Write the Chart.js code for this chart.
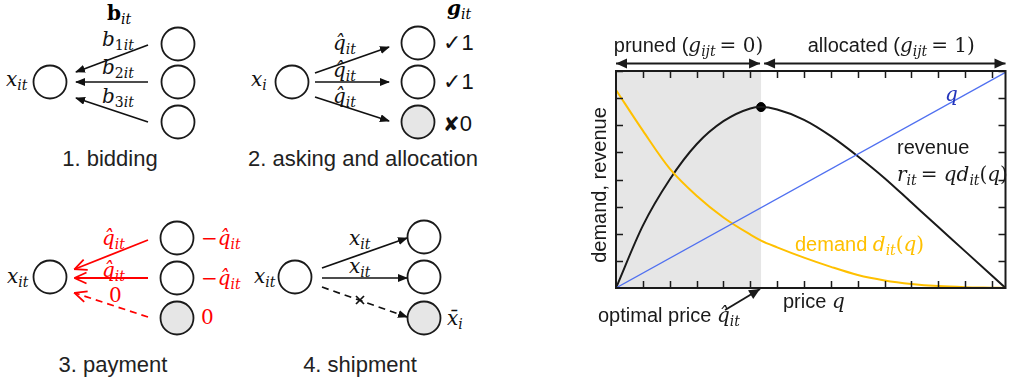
<!DOCTYPE html>
<html>
<head>
<meta charset="utf-8">
<script src="https://cdn.jsdelivr.net/npm/chart.js@4.4.0/dist/chart.umd.min.js"></script>
<style>
  html, body { margin: 0; padding: 0; background: #fff; width: 1011px; height: 385px; overflow: hidden; }
  #diag { position: absolute; left: 0; top: 0; }
  #chartWrap { position: absolute; left: 560px; top: 0; width: 451px; height: 385px; }
  .m { font: italic 20px "DejaVu Serif", serif; fill: #111; }
  .s { font: italic 14px "DejaVu Serif", serif; }
  .u { font-style: normal; }
  .cap { font: 22px "Liberation Sans", Arial, sans-serif; fill: #222; }
  .red { fill: #f00; }
</style>
</head>
<body>

<!-- steps 1-4 of the auction, plain svg -->
<svg id="diag" width="560" height="385" xmlns="http://www.w3.org/2000/svg">
  <defs>
    <marker id="tri" viewBox="0 0 10 8" refX="9" refY="4" markerWidth="10" markerHeight="8" markerUnits="userSpaceOnUse" orient="auto">
      <path d="M0,0 L10,4 L0,8 z" fill="#111"/>
    </marker>
    <marker id="vee" viewBox="0 0 14 14" refX="12.5" refY="7" markerWidth="14" markerHeight="14" markerUnits="userSpaceOnUse" orient="auto">
      <path d="M1,1.5 L13,7 L1,12.5" fill="none" stroke="#f00" stroke-width="1.8"/>
    </marker>
  </defs>

  <!-- 1. bidding -->
  <g stroke="#1a1a1a" stroke-width="1.8" fill="#fff">
    <circle cx="50" cy="82" r="16.5"/>
    <circle cx="178" cy="44" r="16.5"/>
    <circle cx="178" cy="82" r="16.5"/>
    <circle cx="178" cy="122" r="16.5"/>
  </g>
  <g stroke="#111" stroke-width="1.7">
    <line x1="148" y1="45" x2="76" y2="72" marker-end="url(#tri)"/>
    <line x1="148" y1="82" x2="76" y2="82" marker-end="url(#tri)"/>
    <line x1="148" y1="122" x2="76" y2="98" marker-end="url(#tri)"/>
  </g>
  <text x="107" y="20"><tspan font-family="DejaVu Serif" font-weight="bold" font-size="20">b</tspan><tspan class="s" dy="4">it</tspan></text>
  <text class="m" x="102" y="46">b<tspan class="s u" dy="4">1</tspan><tspan class="s">it</tspan></text>
  <text class="m" x="102" y="74">b<tspan class="s u" dy="4">2</tspan><tspan class="s">it</tspan></text>
  <text class="m" x="102" y="103">b<tspan class="s u" dy="4">3</tspan><tspan class="s">it</tspan></text>
  <text class="m" x="6" y="86">x<tspan class="s" dy="4">it</tspan></text>
  <text class="cap" x="110" y="166" text-anchor="middle">1. bidding</text>

  <!-- 2. asking and allocation -->
  <g stroke="#1a1a1a" stroke-width="1.8" fill="#fff">
    <circle cx="292" cy="82" r="16.5"/>
    <circle cx="418" cy="43" r="16.5"/>
    <circle cx="418" cy="82" r="16.5"/>
    <circle cx="418" cy="122" r="16.5" fill="#e6e6e6"/>
  </g>
  <g stroke="#111" stroke-width="1.7">
    <line x1="315" y1="73" x2="389" y2="47" marker-end="url(#tri)"/>
    <line x1="315" y1="82" x2="389" y2="82" marker-end="url(#tri)"/>
    <line x1="315" y1="97" x2="389" y2="121" marker-end="url(#tri)"/>
  </g>
  <text x="447" y="15"><tspan font-family="DejaVu Serif" font-weight="bold" font-style="italic" font-size="20">g</tspan><tspan class="s" dy="4">it</tspan></text>
  <text class="m" x="251" y="86">x<tspan class="s" dy="4">i</tspan></text>
  <text class="m" x="333" y="50">q&#x302;<tspan class="s" dy="4">it</tspan></text>
  <text class="m" x="333" y="77">q&#x302;<tspan class="s" dy="4">it</tspan></text>
  <text class="m" x="333" y="103">q&#x302;<tspan class="s" dy="4">it</tspan></text>
  <text x="443" y="50" font-family="DejaVu Sans" font-size="22" fill="#111">✓<tspan font-family="Liberation Sans" font-size="22">1</tspan></text>
  <text x="443" y="89" font-family="DejaVu Sans" font-size="22" fill="#111">✓<tspan font-family="Liberation Sans" font-size="22">1</tspan></text>
  <text x="443" y="131" font-family="DejaVu Sans" font-size="20" fill="#111">✘<tspan font-family="Liberation Sans" font-size="22">0</tspan></text>
  <text class="cap" x="363" y="166" text-anchor="middle">2. asking and allocation</text>

  <!-- 3. payment -->
  <g stroke="#1a1a1a" stroke-width="1.8" fill="#fff">
    <circle cx="50" cy="277" r="16.5"/>
    <circle cx="177" cy="238" r="16.5"/>
    <circle cx="177" cy="278" r="16.5"/>
    <circle cx="177" cy="318" r="16.5" fill="#e6e6e6"/>
  </g>
  <g stroke="#f00" stroke-width="1.8" fill="none">
    <line x1="148" y1="240" x2="75" y2="269" marker-end="url(#vee)"/>
    <line x1="148" y1="278" x2="75" y2="278" marker-end="url(#vee)"/>
    <line x1="148" y1="317" x2="75" y2="293" stroke-dasharray="7,5" marker-end="url(#vee)"/>
  </g>
  <text class="m" x="7" y="283">x<tspan class="s" dy="4">it</tspan></text>
  <text class="m red" x="102" y="245">q&#x302;<tspan class="s" dy="4">it</tspan></text>
  <text class="m red" x="102" y="277">q&#x302;<tspan class="s" dy="4">it</tspan></text>
  <text class="m red u" x="109" y="302">0</text>
  <text class="m red" x="201" y="245"><tspan class="u">−</tspan>q&#x302;<tspan class="s" dy="4">it</tspan></text>
  <text class="m red" x="201" y="285"><tspan class="u">−</tspan>q&#x302;<tspan class="s" dy="4">it</tspan></text>
  <text class="m red u" x="201" y="324">0</text>
  <text class="cap" x="113" y="372" text-anchor="middle">3. payment</text>

  <!-- 4. shipment -->
  <g stroke="#1a1a1a" stroke-width="1.8" fill="#fff">
    <circle cx="295" cy="277" r="16.5"/>
    <circle cx="424" cy="237" r="16.5"/>
    <circle cx="424" cy="277" r="16.5"/>
    <circle cx="424" cy="318" r="16.5" fill="#e6e6e6"/>
  </g>
  <g stroke="#111" stroke-width="1.7">
    <line x1="322" y1="268" x2="407" y2="238" marker-end="url(#tri)"/>
    <line x1="322" y1="278" x2="407" y2="278" marker-end="url(#tri)"/>
    <line x1="322" y1="287" x2="407" y2="317" stroke-dasharray="7,5" marker-end="url(#tri)"/>
    <line x1="356" y1="296" x2="364" y2="304"/>
    <line x1="364" y1="296" x2="356" y2="304"/>
  </g>
  <text class="m" x="254" y="283">x<tspan class="s" dy="4">it</tspan></text>
  <text class="m" x="349" y="245">x<tspan class="s" dy="4">it</tspan></text>
  <text class="m" x="349" y="273">x<tspan class="s" dy="4">it</tspan></text>
  <text class="m" x="447" y="325">x&#x304;<tspan class="s" dy="4">i</tspan></text>
  <text class="cap" x="360" y="372" text-anchor="middle">4. shipment</text>
</svg>

<div id="chartWrap"><canvas id="chartPrice" width="451" height="385"></canvas></div>

<script>
// ------------------------------------------------------------
// price / demand / revenue curves
// ------------------------------------------------------------
const priceQ   = [0, 1, 2, 3, 4, 5, 5.4, 6, 7, 8, 9, 10, 11, 12, 13, 14, 14.5];
const demandD  = [7.3, 5.8, 4.4, 3.4, 2.6, 1.97, 1.75, 1.5, 1.12, 0.78, 0.48, 0.28, 0.15, 0.07, 0.03, 0.01, 0];
const revenueR = [0, 2.3, 4.0, 5.3, 6.15, 6.62, 6.67, 6.58, 6.2, 5.6, 4.86, 4.05, 3.15, 2.25, 1.35, 0.45, 0];
const lineQx   = [0, 14.5];
const lineQy   = [0, 7.95];
const optimalPrice   = 5.4;
const optimalRevenue = 6.67;
const xTicks = [1, 2, 3, 4, 5, 6, 7, 8, 9, 10, 11, 12, 13, 14];
const yTicks = [1, 2, 3, 4, 5, 6, 7, 8];

const SANS = '20px "Liberation Sans", Arial, sans-serif';
const MATH = 'italic 20px "DejaVu Serif", serif';
const MUP  = '20px "DejaVu Serif", serif';
const SUB  = 'italic 14px "DejaVu Serif", serif';
const INK = '#1a1a1a';
const ORANGE = '#FFC000';

const pts = (xs, ys) => xs.map((x, i) => ({ x, y: ys[i] }));

// draw a run of differently styled pieces on one baseline
function richText(ctx, parts, x, y, align, color) {
  let w = 0;
  parts.forEach(p => { ctx.font = p.f; w += ctx.measureText(p.t).width + (p.gap || 0); });
  let cx = align === 'center' ? x - w / 2 : x;
  parts.forEach(p => {
    ctx.font = p.f;
    ctx.fillStyle = p.c || color || INK;
    ctx.fillText(p.t, cx, y + (p.dy || 0));
    cx += ctx.measureText(p.t).width + (p.gap || 0);
  });
}

function arrowHead(ctx, x1, y1, x2, y2, len = 11, half = 5) {
  const a = Math.atan2(y2 - y1, x2 - x1);
  ctx.beginPath();
  ctx.moveTo(x2, y2);
  ctx.lineTo(x2 - len * Math.cos(a) + half * Math.sin(a), y2 - len * Math.sin(a) - half * Math.cos(a));
  ctx.lineTo(x2 - len * Math.cos(a) - half * Math.sin(a), y2 - len * Math.sin(a) + half * Math.cos(a));
  ctx.closePath();
  ctx.fill();
}

function arrow(ctx, x1, y1, x2, y2, both) {
  ctx.beginPath(); ctx.moveTo(x1, y1); ctx.lineTo(x2, y2); ctx.stroke();
  arrowHead(ctx, x1, y1, x2, y2);
  if (both) arrowHead(ctx, x2, y2, x1, y1);
}

const annotatePlugin = {
  id: 'annotate',
  beforeDatasetsDraw(chart) {
    const { ctx, chartArea: a, scales: { x } } = chart;
    const xo = x.getPixelForValue(optimalPrice);
    ctx.save();
    ctx.fillStyle = '#e6e6e6';
    ctx.fillRect(a.left, a.top, xo - a.left, a.bottom - a.top);
    ctx.restore();
  },
  afterDraw(chart) {
    const { ctx, chartArea: a, scales: { x, y } } = chart;
    const xo = x.getPixelForValue(optimalPrice);
    ctx.save();

    // frame + inward ticks
    ctx.strokeStyle = INK; ctx.fillStyle = INK;
    ctx.lineWidth = 2;
    ctx.strokeRect(a.left, a.top, a.right - a.left, a.bottom - a.top);
    ctx.lineWidth = 1.5;
    ctx.beginPath();
    xTicks.forEach(t => {
      const px = Math.round(x.getPixelForValue(t)) + 0.5;
      ctx.moveTo(px, a.bottom); ctx.lineTo(px, a.bottom - 7);
      ctx.moveTo(px, a.top); ctx.lineTo(px, a.top + 7);
    });
    yTicks.forEach(t => {
      const py = Math.round(y.getPixelForValue(t)) + 0.5;
      ctx.moveTo(a.left, py); ctx.lineTo(a.left + 7, py);
      ctx.moveTo(a.right, py); ctx.lineTo(a.right - 7, py);
    });
    ctx.stroke();

    // pruned / allocated spans above the plot
    ctx.lineWidth = 2;
    const ya = a.top - 7.5;
    arrow(ctx, a.left, ya, xo - 1, ya, true);
    arrow(ctx, xo + 3, ya, a.right, ya, true);

    ctx.textBaseline = 'alphabetic';
    richText(ctx, [
      { t: 'pruned (', f: SANS },
      { t: 'g', f: MATH }, { t: 'ijt', f: SUB, dy: 4, gap: 4 },
      { t: '= 0)', f: MUP }
    ], (a.left + xo) / 2, 52, 'center');
    richText(ctx, [
      { t: 'allocated (', f: SANS },
      { t: 'g', f: MATH }, { t: 'ijt', f: SUB, dy: 4, gap: 4 },
      { t: '= 1)', f: MUP }
    ], (xo + a.right) / 2 + 8, 52, 'center');

    // curve labels
    richText(ctx, [{ t: 'q', f: MATH }], 385, 101, 'left', '#2233bb');
    richText(ctx, [{ t: 'revenue', f: SANS }], 337, 154, 'left');
    richText(ctx, [
      { t: 'r', f: MATH }, { t: 'it', f: SUB, dy: 4, gap: 4 },
      { t: '= ', f: MUP }, { t: 'qd', f: MATH }, { t: 'it', f: SUB, dy: 4 },
      { t: '(', f: MUP }, { t: 'q', f: MATH }, { t: ')', f: MUP }
    ], 337, 181, 'left');
    richText(ctx, [
      { t: 'demand ', f: SANS }, { t: 'd', f: MATH }, { t: 'it', f: SUB, dy: 4 },
      { t: '(', f: MUP }, { t: 'q', f: MATH }, { t: ')', f: MUP }
    ], 235, 251, 'left', ORANGE);

    // axis titles
    richText(ctx, [{ t: 'price ', f: SANS }, { t: 'q', f: MATH }], 223, 308, 'left');
    ctx.save();
    ctx.translate(46, 185);
    ctx.rotate(-Math.PI / 2);
    ctx.textAlign = 'center';
    ctx.font = SANS;
    ctx.fillStyle = INK;
    ctx.fillText('demand, revenue', 0, 0);
    ctx.restore();

    // optimal price callout
    richText(ctx, [
      { t: 'optimal price ', f: SANS },
      { t: 'q\u0302', f: MATH }, { t: 'it', f: SUB, dy: 4 }
    ], 38, 322, 'left');
    ctx.lineWidth = 2;
    arrow(ctx, xo - 36, a.bottom + 22, xo - 1, a.bottom + 1, false);

    ctx.restore();
  }
};

new Chart(document.getElementById('chartPrice'), {
  type: 'line',
  data: {
    datasets: [
      { label: 'q', data: pts(lineQx, lineQy), borderColor: '#5070F0', borderWidth: 1.2, pointRadius: 0 },
      { label: 'demand', data: pts(priceQ, demandD), borderColor: ORANGE, borderWidth: 2, pointRadius: 0, cubicInterpolationMode: 'monotone' },
      { label: 'revenue', data: pts(priceQ, revenueR), borderColor: INK, borderWidth: 2, pointRadius: 0, cubicInterpolationMode: 'monotone' },
      { label: 'optimum', data: [{ x: optimalPrice, y: optimalRevenue }], showLine: false, pointRadius: 4.5, pointBackgroundColor: '#000', pointBorderColor: '#000' }
    ]
  },
  options: {
    responsive: false,
    animation: false,
    devicePixelRatio: 1,
    layout: { padding: { left: 56, top: 71, right: 1, bottom: 97 } },
    plugins: { legend: { display: false }, tooltip: { enabled: false } },
    scales: {
      x: { type: 'linear', min: 0, max: 14.5, display: false },
      y: { type: 'linear', min: 0, max: 8, display: false }
    }
  },
  plugins: [annotatePlugin]
});
</script>
</body>
</html>
